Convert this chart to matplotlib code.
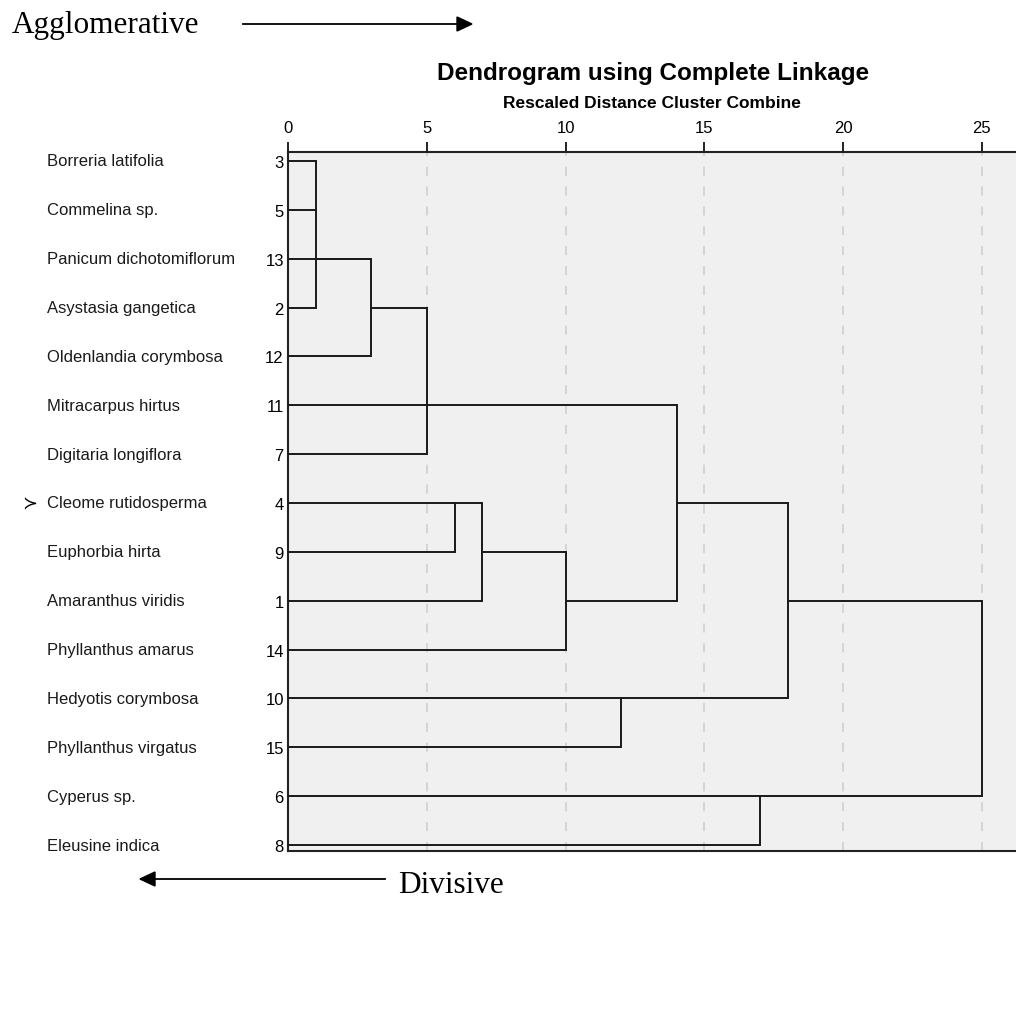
import numpy as np
import matplotlib.pyplot as plt

# species in dendrogram order (top to bottom) and their case numbers
species = ["Borreria latifolia", "Commelina sp.", "Panicum dichotomiflorum",
           "Asystasia gangetica", "Oldenlandia corymbosa", "Mitracarpus hirtus",
           "Digitaria longiflora", "Cleome rutidosperma", "Euphorbia hirta",
           "Amaranthus viridis", "Phyllanthus amarus", "Hedyotis corymbosa",
           "Phyllanthus virgatus", "Cyperus sp.", "Eleusine indica"]
case_no = [3, 5, 13, 2, 12, 11, 7, 4, 9, 1, 14, 10, 15, 6, 8]

# merges (rescaled distance), children: L = leaf row, M = earlier merge
merge_height = [1, 3, 5, 6, 7, 10, 14, 12, 18, 17, 25]
merge_children = [["L0", "L1", "L3"], ["L2", "M0", "L4"], ["M1", "L5", "L6"],
                  ["L7", "L8"], ["M3", "L9"], ["M4", "L10"], ["M2", "M5"],
                  ["L11", "L12"], ["M6", "M7"], ["L13", "L14"], ["M8", "M9"]]
merge_row = [2, 3, 5, 7, 8, 9, 7, 11, 9, 13, 9]

dist_ticks = [0, 5, 10, 15, 20, 25]

W, H = 1016, 1012
px = 27.75  # pixels per distance unit
fig = plt.figure(figsize=(W / 100, H / 100), dpi=100)
ax = fig.add_axes([288 / W, 1 - 852 / H, 1 - 288 / W, (852 - 153) / H])
ax.set_facecolor("#f0f0f0")

# dashed grid
for t in dist_ticks[1:]:
    ax.axvline(t, color="#d2d2d2", lw=1.3, ls=(0, (5, 6)), zorder=1)

def node(c):
    if c[0] == "L":
        return 0, int(c[1:])
    j = int(c[1:])
    return merge_height[j], merge_row[j]

for h, kids in zip(merge_height, merge_children):
    rows = []
    for c in kids:
        ch, cr = node(c)
        ax.plot([ch, h], [cr, cr], color="#1a1a1a", lw=1.4, zorder=3,
                solid_capstyle="butt")
        rows.append(cr)
    ax.plot([h, h], [min(rows), max(rows)], color="#1a1a1a", lw=1.4, zorder=3,
            solid_capstyle="projecting")

ax.set_xlim(0, (W - 288) / px)
ax.set_ylim(14 + 6 / 48.86, -9 / 48.86)

ax.xaxis.tick_top()
ax.set_xticks(dist_ticks)
ax.set_xticklabels([str(t) for t in dist_ticks], fontsize=12, family="Liberation Sans")
ax.tick_params(axis="x", length=7, width=1.4, pad=5, color="#222222")
ax.set_yticks(range(len(case_no)))
ax.set_yticklabels([str(c) for c in case_no], fontsize=12, family="Liberation Sans")
ax.tick_params(axis="y", length=0, pad=3)
for s in ["top", "left", "bottom"]:
    ax.spines[s].set_linewidth(1.5)
    ax.spines[s].set_color("#222222")
ax.spines["right"].set_visible(False)

for i, name in enumerate(species):
    ax.text(-241 / px, i, name, fontsize=12, family="Liberation Sans",
            ha="left", va="center", color="#1a1a1a")
ax.text(-266 / px, 7, "\u227b", fontsize=13, ha="left", va="center")

fig.text(653 / W, 1 - 80 / H, "Dendrogram using Complete Linkage", fontsize=17.5,
         fontweight="bold", family="Liberation Sans", ha="center", va="baseline")
fig.text(652 / W, 1 - 108 / H, "Rescaled Distance Cluster Combine", fontsize=12.5,
         fontweight="bold", family="Liberation Sans", ha="center", va="baseline")

fig.text(12 / W, 1 - 33 / H, "Agglomerative", fontsize=22.5, family="Liberation Serif",
         ha="left", va="baseline")
fig.text(398 / W, 1 - 893 / H, "Divisive", fontsize=22.5, family="Liberation Serif",
         ha="left", va="baseline")
fig.add_artist(plt.Line2D([243 / W, 458 / W], [1 - 25 / H] * 2, color="black", lw=1.3))
fig.add_artist(plt.Polygon([[457 / W, 1 - 18 / H], [472 / W, 1 - 25 / H], [457 / W, 1 - 32 / H]],
                           closed=True, color="black"))
fig.add_artist(plt.Line2D([154 / W, 385 / W], [1 - 880 / H] * 2, color="black", lw=1.3))
fig.add_artist(plt.Polygon([[155 / W, 1 - 873 / H], [140 / W, 1 - 880 / H], [155 / W, 1 - 887 / H]],
                           closed=True, color="black"))

fig.savefig("out.png", dpi=100)
